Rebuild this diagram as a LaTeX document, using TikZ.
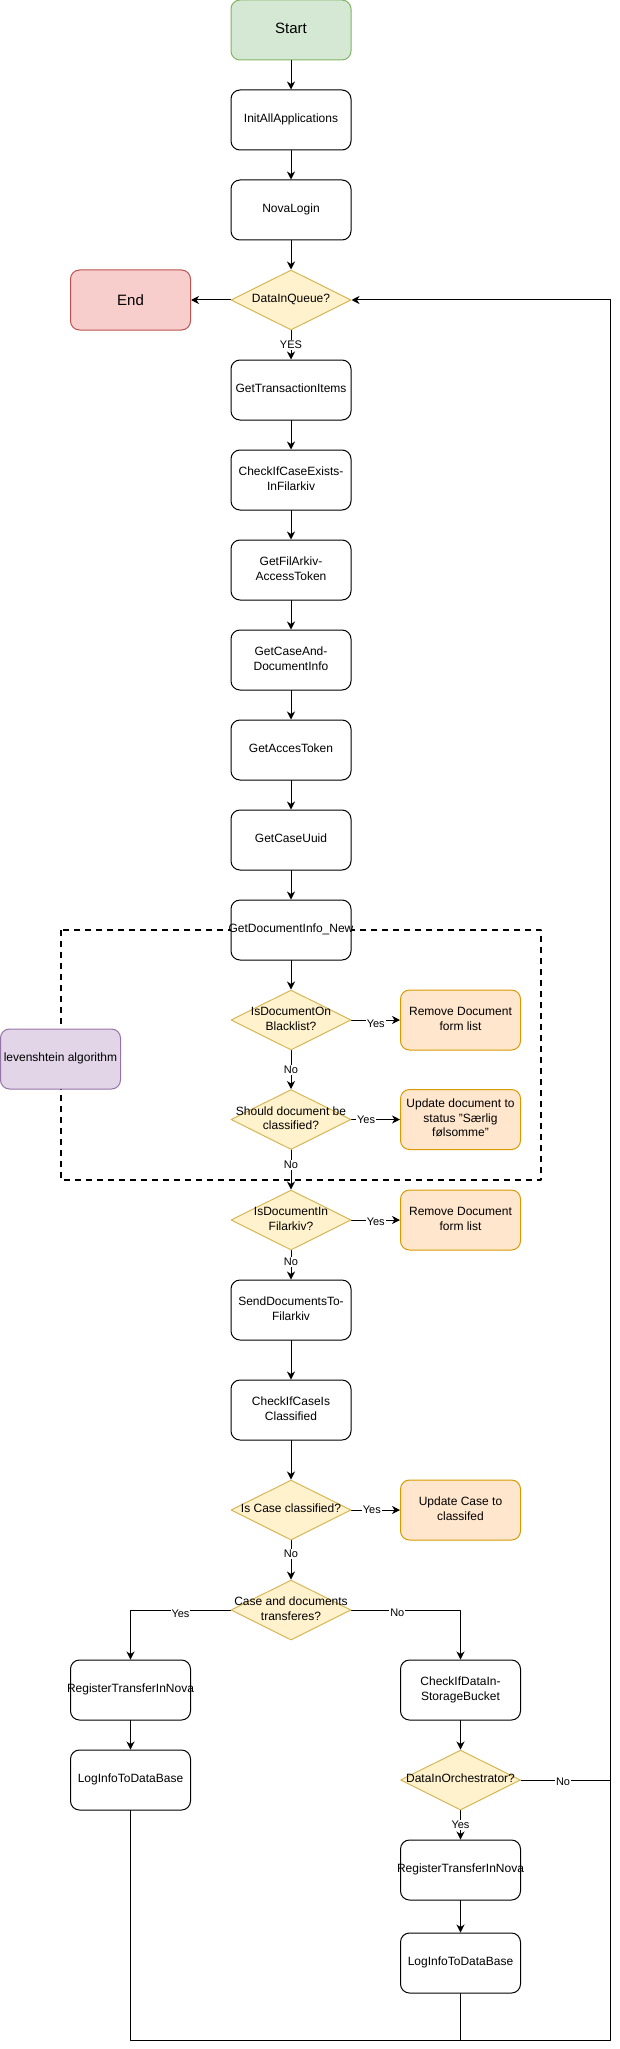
\documentclass[tikz,border=0pt]{standalone}
\usepackage{fontspec}
\setmainfont{Liberation Sans}
\usetikzlibrary{shapes.geometric,arrows.meta}

\definecolor{startfill}{HTML}{D5E8D4}
\definecolor{startdraw}{HTML}{82B366}
\definecolor{endfill}{HTML}{F8CECC}
\definecolor{enddraw}{HTML}{B85450}
\definecolor{decfill}{HTML}{FFF2CC}
\definecolor{decdraw}{HTML}{D6B656}
\definecolor{actfill}{HTML}{FFE6CC}
\definecolor{actdraw}{HTML}{D79B00}
\definecolor{algofill}{HTML}{E1D5E7}
\definecolor{algodraw}{HTML}{9673A6}

\newcommand{\nodelines}[1]{\makebox[0pt]{\begin{tabular}{@{}c@{}}#1\end{tabular}}}

\tikzset{
    base/.style={minimum width=120pt, minimum height=60pt, inner sep=0pt, line width=1pt, font=\fontsize{12}{14.4}\selectfont},
    proc/.style={base, draw, fill=white, rounded corners=9pt},
    startbox/.style={proc, draw=startdraw, fill=startfill, font=\fontsize{15}{18}\selectfont},
    endbox/.style={proc, draw=enddraw, fill=endfill, font=\fontsize{15}{18}\selectfont},
    act/.style={proc, draw=actdraw, fill=actfill},
    algo/.style={proc, draw=algodraw, fill=algofill},
    decision/.style={base, shape=diamond, aspect=2, draw=decdraw, fill=decfill},
    arr/.style={line width=1pt, -{Stealth[length=8pt, width=8pt, inset=2.5pt]}},
    lbl/.style={fill=white, inner sep=1pt, font=\fontsize{11}{13}\selectfont},
    groupbox/.style={line width=2pt, line cap=butt, dash pattern=on 6pt off 5pt}
}

\begin{document}
\begin{tikzpicture}[line cap=round, line join=round, x=1pt, y=-1pt]
    \useasboundingbox (0,0) rectangle (619,2049);
    \draw[groupbox] (60.7,930) rectangle (541,1180);
    \foreach \n/\y/\s/\txt in {start/30/startbox/Start, init/120/proc/InitAllApplications, nova/210/proc/NovaLogin,
        diq/300/decision/DataInQueue?, gti/390/proc/GetTransactionItems, cice/480/proc/{CheckIfCaseExists-\\InFilarkiv},
        gfat/570/proc/{GetFilArkiv-\\AccessToken}, gcdi/660/proc/{GetCaseAnd-\\DocumentInfo}, gat/750/proc/GetAccesToken,
        gcu/840/proc/GetCaseUuid, gdi/930/proc/GetDocumentInfo\_New, blk/1020/decision/{IsDocumentOn\\Blacklist?},
        cls/1119.5/decision/{Should document be\\classified?}, inf/1220/decision/{IsDocumentIn\\Filarkiv?},
        sdf/1310/proc/{SendDocumentsTo-\\Filarkiv}, cicc/1410/proc/{CheckIfCaseIs\\Classified},
        icc/1510/decision/Is Case classified?, cad/1610/decision/{Case and documents\\transferes?}}
        \node[\s] (\n) at (291,\y) {\nodelines{\txt}};
    \node[endbox] (end) at (130.5,300) {End};
    \node[proc] (regl) at (130.5,1690) {\nodelines{RegisterTransferInNova}};
    \node[proc] (logl) at (130.5,1780) {\nodelines{LogInfoToDataBase}};
    \node[algo] (lev) at (60.5,1059) {\nodelines{levenshtein algorithm}};
    \node[act] (rmv1) at (460.5,1020) {\nodelines{Remove Document\\form list}};
    \node[act] (upd) at (460.5,1119.5) {\nodelines{Update document to\\status "Særlig\\følsomme"}};
    \node[act] (rmv2) at (460.5,1220) {\nodelines{Remove Document\\form list}};
    \node[act] (updc) at (460.5,1510) {\nodelines{Update Case to\\classifed}};
    \node[proc] (cds) at (460.5,1690) {\nodelines{CheckIfDataIn-\\StorageBucket}};
    \node[decision] (dio) at (460.5,1780) {\nodelines{DataInOrchestrator?}};
    \node[proc] (regr) at (460.5,1870) {\nodelines{RegisterTransferInNova}};
    \node[proc] (logr) at (460.5,1963) {\nodelines{LogInfoToDataBase}};
    \coordinate (loop) at (610.5,2040);
    \foreach \a/\b in {start/init, init/nova, nova/diq, diq/end, gti/cice, cice/gfat, gfat/gcdi, gcdi/gat, gat/gcu, gcu/gdi,
        gdi/blk, sdf/cicc, cicc/icc, regl/logl, cds/dio, regr/logr}
        \draw[arr] (\a) -- (\b);
    \draw[arr] (diq) -- node[lbl] {YES} (gti);
    \draw[arr] (blk) -- node[lbl, yshift=-4pt] {Yes} (rmv1);
    \draw[arr] (blk) -- node[lbl] {No} (cls);
    \draw[arr] (cls) -- node[lbl, pos=.3] {Yes} (upd);
    \draw[arr] (cls) -- node[lbl, pos=.375] {No} (inf);
    \draw[arr] (inf) -- node[lbl, yshift=-2pt] {Yes} (rmv2);
    \draw[arr] (inf) -- node[lbl, pos=.4] {No} (sdf);
    \draw[arr] (icc) -- node[lbl, pos=.42] {Yes} (updc);
    \draw[arr] (icc) -- node[lbl, pos=.35] {No} (cad);
    \draw[arr] (cad) -| node[lbl, pos=.25, yshift=-4pt] {Yes} (regl);
    \draw[arr] (cad) -| node[lbl, pos=.21, yshift=-3pt] {No} (cds);
    \draw[arr] (dio) -- node[lbl] {Yes} (regr);
    \draw (dio) -- node[lbl, pos=.47, yshift=-2pt] {No} (dio -| loop);
    \draw[arr] (logl) |- (loop) |- (diq);
    \draw (logr) -- (logr |- loop);
\end{tikzpicture}
\end{document}
